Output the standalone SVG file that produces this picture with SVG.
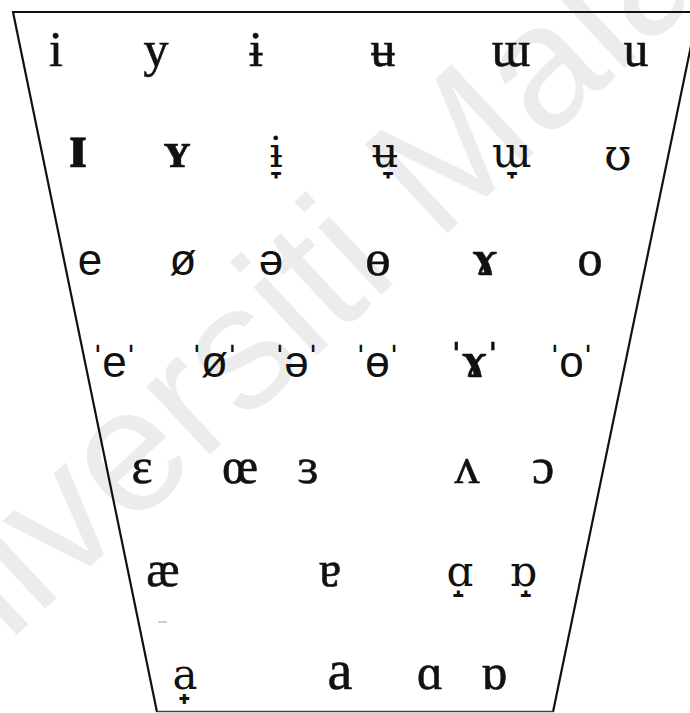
<svg xmlns="http://www.w3.org/2000/svg" width="690" height="713" viewBox="0 0 690 713">
<style>
.s{font-family:"Liberation Serif","DejaVu Serif",serif;font-size:50px;fill:#111;stroke:#111;stroke-width:0.6;text-anchor:middle}
.d{font-family:"DejaVu Serif","Liberation Serif",serif;font-size:42px;fill:#111;text-anchor:middle}
.b{font-weight:bold}
.a{font-family:"Liberation Sans","DejaVu Sans",sans-serif;font-size:44px;fill:#111;text-anchor:middle}
.q{letter-spacing:-3px}
.wm{font-family:"Liberation Sans","DejaVu Sans",sans-serif;font-size:176px;fill:#ececec}
.frame{stroke:#111;stroke-width:2.2;fill:none}
</style>
<rect width="690" height="713" fill="#ffffff"/>
<text class="wm" transform="translate(-128,770) rotate(-43)">Universiti Malaya</text>
<g id="chart">
<line class="frame" x1="12" y1="12" x2="690" y2="12" stroke-width="3"/>
<line class="frame" x1="13" y1="12" x2="157" y2="712"/>
<line class="frame" x1="698" y1="12" x2="553" y2="712"/>
<line x1="157" y1="711.5" x2="553" y2="711.5" stroke="#444" stroke-width="1.5"/>
<line x1="158" y1="622" x2="167" y2="622" stroke="#bbb" stroke-width="1.5"/>
</g>
<g id="row1">
<g id="v-i"><text class="s" x="56" y="66">i</text></g>
<g id="v-y"><text class="s" x="156" y="66">y</text></g>
<g id="v-ibar"><text class="s" x="256" y="66">ɨ</text></g>
<g id="v-ubar"><text class="s" x="383" y="66">ʉ</text></g>
<g id="v-turnm"><text class="s" x="511" y="66">ɯ</text></g>
<g id="v-u"><text class="s" x="636" y="66">u</text></g>
</g>
<g id="row2">
<g id="v-smi"><text class="s b" x="78" y="167" style="font-size:64px">ɪ</text></g>
<g id="v-smy"><text class="s b" x="177" y="167">ʏ</text></g>
<g id="v-ibarl"><text class="d" x="276" y="167">ɨ̞</text></g>
<g id="v-ubarl"><text class="d" x="385" y="167">ʉ̞</text></g>
<g id="v-turnml"><text class="d" x="512" y="167">ɯ̞</text></g>
<g id="v-upsilon"><text class="d" x="618" y="170" style="font-size:44px">ʊ</text></g>
</g>
<g id="row3">
<g id="v-e"><text class="a" x="90" y="275">e</text></g>
<g id="v-oslash"><text class="a" x="183" y="275">ø</text></g>
<g id="v-schwa"><text class="a" x="271" y="275">ə</text></g>
<g id="v-obar"><text class="s" x="378" y="275">ɵ</text></g>
<g id="v-ramshorn"><text class="s b" x="485" y="275">ɤ</text></g>
<g id="v-o"><text class="s" x="590" y="275">o</text></g>
</g>
<g id="row4">
<g id="v-e2"><text class="a q" x="113" y="377">ˈeˈ</text></g>
<g id="v-oslash2"><text class="a q" x="213" y="377">ˈøˈ</text></g>
<g id="v-schwa2"><text class="a q" x="295" y="377">ˈəˈ</text></g>
<g id="v-obar2"><text class="a q" x="376" y="377">ˈɵˈ</text></g>
<g id="v-ramshorn2"><text class="s b q" x="473" y="377">ˈɤˈ</text></g>
<g id="v-o2"><text class="a q" x="570" y="377">ˈoˈ</text></g>
</g>
<g id="row5">
<g id="v-eps"><text class="s" x="142" y="483">ɛ</text></g>
<g id="v-oe"><text class="s" x="240" y="483">œ</text></g>
<g id="v-reveps"><text class="s" x="308" y="483">ɜ</text></g>
<g id="v-wedge"><text class="s" x="467" y="483">ʌ</text></g>
<g id="v-openo"><text class="s" x="543" y="483">ɔ</text></g>
</g>
<g id="row6">
<g id="v-ae"><text class="s" x="163" y="586">æ</text></g>
<g id="v-turna"><text class="s" x="330" y="586">ɐ</text></g>
<g id="v-alphar"><text class="d" x="460" y="586">ɑ̝</text></g>
<g id="v-turnalphar"><text class="d" x="523" y="586">ɒ̝</text></g>
</g>
<g id="row7">
<g id="v-aadv"><text class="d" x="185" y="689">a̟</text></g>
<g id="v-a"><text class="s" x="340" y="689" style="font-size:56px">a</text></g>
<g id="v-alpha"><text class="s" x="430" y="689">ɑ</text></g>
<g id="v-turnalpha"><text class="s" x="494" y="689">ɒ</text></g>
</g>
</svg>
